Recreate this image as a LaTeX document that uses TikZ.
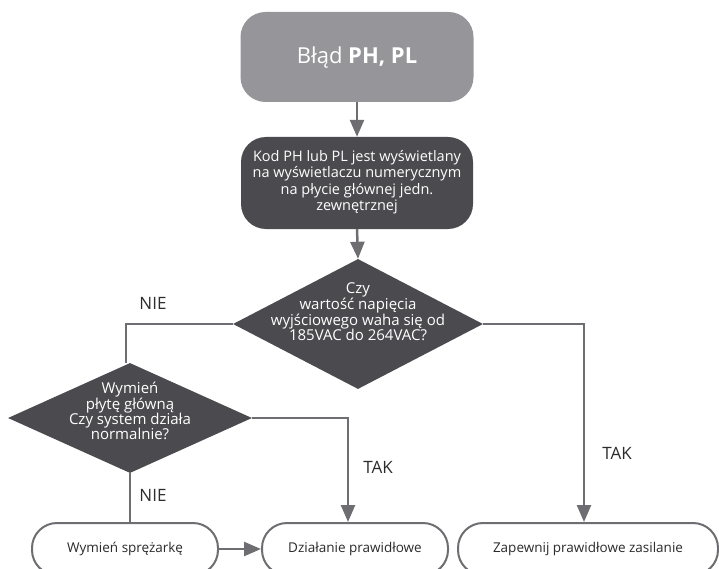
\documentclass[tikz,border=0pt]{standalone}
\usepackage{fontspec}
\setmainfont{Open Sans}
\usetikzlibrary{shapes.geometric,arrows.meta}
\definecolor{titlegray}{HTML}{96969A}
\definecolor{darkbox}{HTML}{4B4A4E}
\definecolor{linegray}{HTML}{6E6E72}
\definecolor{txtdark}{HTML}{2B2B2B}
\tikzset{
  titlebox/.style={draw=none, fill=titlegray, rounded corners=25pt, minimum width=233pt, minimum height=90pt, inner sep=0pt},
  darkrbox/.style={draw=none, fill=darkbox, rounded corners=25pt, minimum width=232pt, minimum height=92pt, inner sep=0pt},
  decision/.style={diamond, draw=none, fill=darkbox, inner sep=0pt},
  wtext/.style={text=white, font=\fontsize{15}{15}\selectfont, align=center},
  endbox/.style={draw=linegray, line width=2pt, fill=white, rounded corners=25pt, minimum height=52pt, inner sep=0pt, text=txtdark, font=\fontsize{13.5}{16}\selectfont},
  conn/.style={draw=linegray, line width=2.5pt},
  arr/.style={conn, -{Triangle[length=17pt,width=14pt]}},
  lbl/.style={text=txtdark, font=\fontsize{17}{20}\selectfont}
}
\begin{document}
\begin{tikzpicture}[x=1pt, y=-1pt]
\useasboundingbox (0,0) rectangle (719,569);
\clip (0,0) rectangle (719,569);
% nodes
\node[titlebox] (t) at (357,57) {};
\node[text=white, font=\fontsize{22}{26}\selectfont] at (357,58) {Błąd \textbf{PH, PL}};
\node[darkrbox] (b2) at (357,183) {};
\node[wtext, font=\fontsize{14.5}{16.5}\selectfont] at (357,182) {Kod PH lub PL jest wyświetlany\\na wyświetlaczu numerycznym\\na płycie głównej jedn.\\zewnętrznej};
\node[decision, minimum width=250pt, minimum height=130pt] (d1) at (358,324) {};
\node[wtext] at (358,312) {Czy\\wartość napięcia\\wyjściowego waha się od\\185VAC do 264VAC?};
\node[decision, minimum width=244pt, minimum height=110pt] (d2) at (130,418) {};
\node[wtext] at (130,411) {Wymień\\płytę główną\\Czy system działa\\normalnie?};
\node[endbox, minimum width=186pt] (e1) at (125,549) {Wymień sprężarkę};
\node[endbox, minimum width=186pt] (e2) at (355,549) {Działanie prawidłowe};
\node[endbox, minimum width=260pt] (e3) at (588,549) {Zapewnij prawidłowe zasilanie};
% corner coordinates
\coordinate (c1) at (126,324);
\coordinate (c2) at (584,324);
\coordinate (c3) at (348,418);
% connectors
\draw[arr] (t.south) -- (b2.north);
\draw[arr] (b2.south) -- (d1.north);
\draw[conn] (d1.west) -- (c1) -- (c1 |- d2.north);
\draw[arr] (d1.east) -- (c2) -- (c2 |- e3.north);
\draw[arr] (d2.east) -- (c3) -- (c3 |- e2.north);
\draw[conn] (d2.south) -- (d2.south |- e1.north);
\draw[arr] (e1.east) -- (e2.west);
% labels
\node[lbl] at (153,303) {NIE};
\node[lbl] at (153,495) {NIE};
\node[lbl] at (378,467) {TAK};
\node[lbl] at (617,453) {TAK};
\end{tikzpicture}
\end{document}
